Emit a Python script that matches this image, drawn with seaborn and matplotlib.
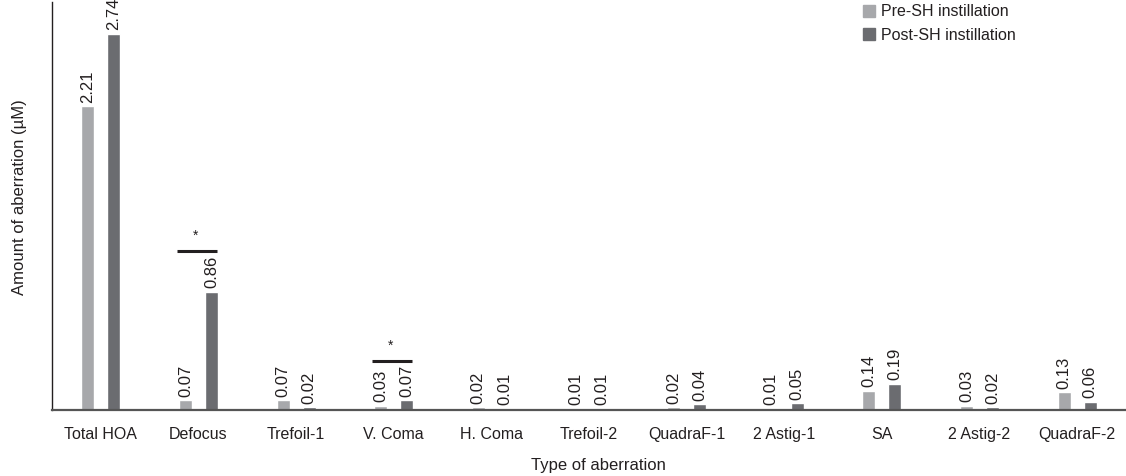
import matplotlib
matplotlib.use("Agg")
import matplotlib.pyplot as plt
from matplotlib.lines import Line2D
import seaborn as sns
import pandas as pd

categories = ["Total HOA", "Defocus", "Trefoil-1", "V. Coma", "H. Coma", "Trefoil-2",
              "QuadraF-1", "2 Astig-1", "SA", "2 Astig-2", "QuadraF-2"]
pre_values = [2.21, 0.07, 0.07, 0.03, 0.02, 0.01, 0.02, 0.01, 0.14, 0.03, 0.13]
post_values = [2.74, 0.86, 0.02, 0.07, 0.01, 0.01, 0.04, 0.05, 0.19, 0.02, 0.06]
series_names = ["Pre-SH instillation", "Post-SH instillation"]
sig_categories = ["Defocus", "V. Coma"]
sig_heights = [1.16, 0.36]

colors = ["#a7a8ab", "#6b6c70"]
text_color = "#231f20"

sns.set_theme(style="white")
plt.rcParams["font.family"] = ["Liberation Sans", "DejaVu Sans"]

df = pd.DataFrame({
    "category": categories * 2,
    "value": pre_values + post_values,
    "series": [series_names[0]] * len(categories) + [series_names[1]] * len(categories),
})

fig = plt.figure(figsize=(11.26, 4.76), dpi=100)
ax = fig.add_axes([0.0462, 0.1387, 0.9538, 0.857])

sns.barplot(data=df, x="category", y="value", hue="series", order=categories,
            hue_order=series_names, palette=colors, width=0.533, gap=0.5,
            saturation=1, ax=ax, legend=False)

# value labels
for cont in ax.containers:
    for bar in cont:
        h = bar.get_height()
        ax.text(bar.get_x() + bar.get_width() / 2, h + 0.025, f"{h:.2f}",
                rotation=90, ha="center", va="bottom", fontsize=12, color=text_color)

# significance markers
for cat, hgt in zip(sig_categories, sig_heights):
    i = categories.index(cat)
    ax.plot([i - 0.225, i + 0.185], [hgt, hgt], color="#231f20", lw=2.2, solid_capstyle="butt")
    ax.text(i - 0.03, hgt + 0.11, "*", ha="center", va="center", fontsize=10, color=text_color)

ax.set_xlim(-0.5, 10.5)
ax.set_ylim(0, 2.97)
ax.set_yticks([])
ax.tick_params(axis="x", length=0, labelsize=11.5, labelcolor=text_color, pad=12)
ax.set_xlabel("Type of aberration", fontsize=12, color=text_color)
ax.set_ylabel("Amount of aberration (\u00b5M)", fontsize=12, color=text_color)
ax.xaxis.label.set_va("center")
ax.xaxis.set_label_coords(0.509, -0.137)
ax.yaxis.label.set_va("center")
ax.yaxis.set_label_coords(-0.030, 0.522)

for s in ["top", "right"]:
    ax.spines[s].set_visible(False)
ax.spines["left"].set_color("#231f20")
ax.spines["left"].set_linewidth(1.0)
ax.spines["bottom"].set_color("#555555")
ax.spines["bottom"].set_linewidth(1.6)

handles = [Line2D([], [], marker="s", linestyle="none", markersize=9,
                  markerfacecolor=c, markeredgecolor=c) for c in colors]
ax.legend(handles, series_names, loc="upper left", bbox_to_anchor=(0.741, 1.03),
          frameon=False, fontsize=11.5, handletextpad=0.25, labelspacing=0.55,
          handlelength=0.9, labelcolor=text_color)

fig.savefig("out.png", dpi=100)
